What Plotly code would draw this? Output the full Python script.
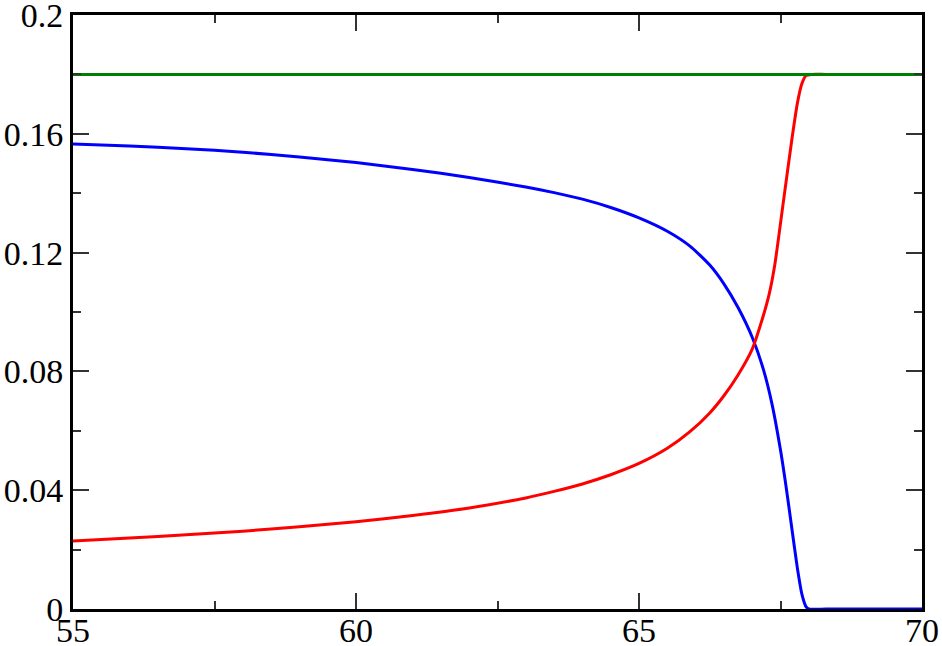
import plotly.graph_objs as go

# values
x_blue = [55, 56, 57, 58, 59, 60, 61, 62, 63, 63.5, 64, 64.5, 65, 65.5, 65.9, 66.25,
          66.5, 66.75, 67.0, 67.2, 67.35, 67.5, 67.6, 67.7, 67.8, 67.88, 67.95, 68.0,
          68.3, 68.8, 69.4, 70]
y_blue = [0.1566, 0.1559, 0.1550, 0.1538, 0.1522, 0.1503, 0.1480, 0.1453, 0.1421, 0.1402, 0.1380, 0.1352,
          0.1317, 0.1272, 0.1222, 0.1158, 0.1095, 0.1015, 0.0915, 0.0805, 0.0690, 0.0535, 0.0410, 0.0272,
          0.0135, 0.0048, 0.0008, 0.0, 0.0, 0.0, 0.0, 0.0]

x_red = [55, 56, 57, 58, 59, 60, 61, 62, 63, 63.5, 64, 64.5, 65, 65.5, 65.9, 66.25,
         66.5, 66.75, 67.0, 67.2, 67.3, 67.4, 67.55, 67.7, 67.8, 67.88, 67.95, 68.05,
         68.3, 68.8, 69.4, 70]
y_red = [0.0229, 0.0239, 0.0250, 0.0262, 0.0277, 0.0294, 0.0315, 0.0340, 0.0374, 0.0396, 0.0421, 0.0452,
         0.0490, 0.0541, 0.0597, 0.0660, 0.0718, 0.0788, 0.0875, 0.0990, 0.1060, 0.1160, 0.1370, 0.1580,
         0.1705, 0.1770, 0.1796, 0.1800, 0.1800, 0.1800, 0.1800, 0.1800]

x_green = [55, 70]
y_green = [0.18, 0.18]

x_ticks = [55, 60, 65, 70]
y_ticks = [0, 0.04, 0.08, 0.12, 0.16, 0.2]
y_ticktext = ['0', '0.04', '0.08', '0.12', '0.16', '0.2']

fig = go.Figure()
fig.add_trace(go.Scatter(x=x_blue, y=y_blue, mode='lines',
                         line=dict(color='#0000ff', width=3, shape='spline', smoothing=0.6)))
fig.add_trace(go.Scatter(x=x_red, y=y_red, mode='lines',
                         line=dict(color='#ff0000', width=3, shape='spline', smoothing=0.6)))
fig.add_trace(go.Scatter(x=x_green, y=y_green, mode='lines',
                         line=dict(color='#008000', width=3)))

axis_style = dict(
    showgrid=False, zeroline=False, automargin=False, ticklabeloverflow='allow',
    showline=True, linecolor='black', linewidth=3, mirror='allticks',
    ticks='inside', ticklen=16, tickwidth=1.5, tickcolor='#333333',
    tickfont=dict(family='Liberation Serif', size=34, color='black'),
)

fig.update_xaxes(range=[55, 70], tickvals=x_ticks, ticklabelstandoff=-11,
                 minor=dict(ticks='inside', ticklen=8, dtick=2.5, tick0=55, tickwidth=1.5, tickcolor='#333333'),
                 **axis_style)
fig.update_yaxes(range=[0, 0.2], tickvals=y_ticks, ticktext=y_ticktext,
                 minor=dict(ticks='inside', ticklen=8, dtick=0.02, tick0=0, tickwidth=1.5, tickcolor='#333333'),
                 **axis_style)

fig.update_layout(
    width=942, height=646,
    margin=dict(l=73, r=20, t=15, b=37),
    plot_bgcolor='white', paper_bgcolor='white',
    showlegend=False,
)

# the page's default body margin would shift the chart by 8px
fig.write_html("out.html", config={'displayModeBar': False},
               post_script="document.body.style.margin='0px';")
